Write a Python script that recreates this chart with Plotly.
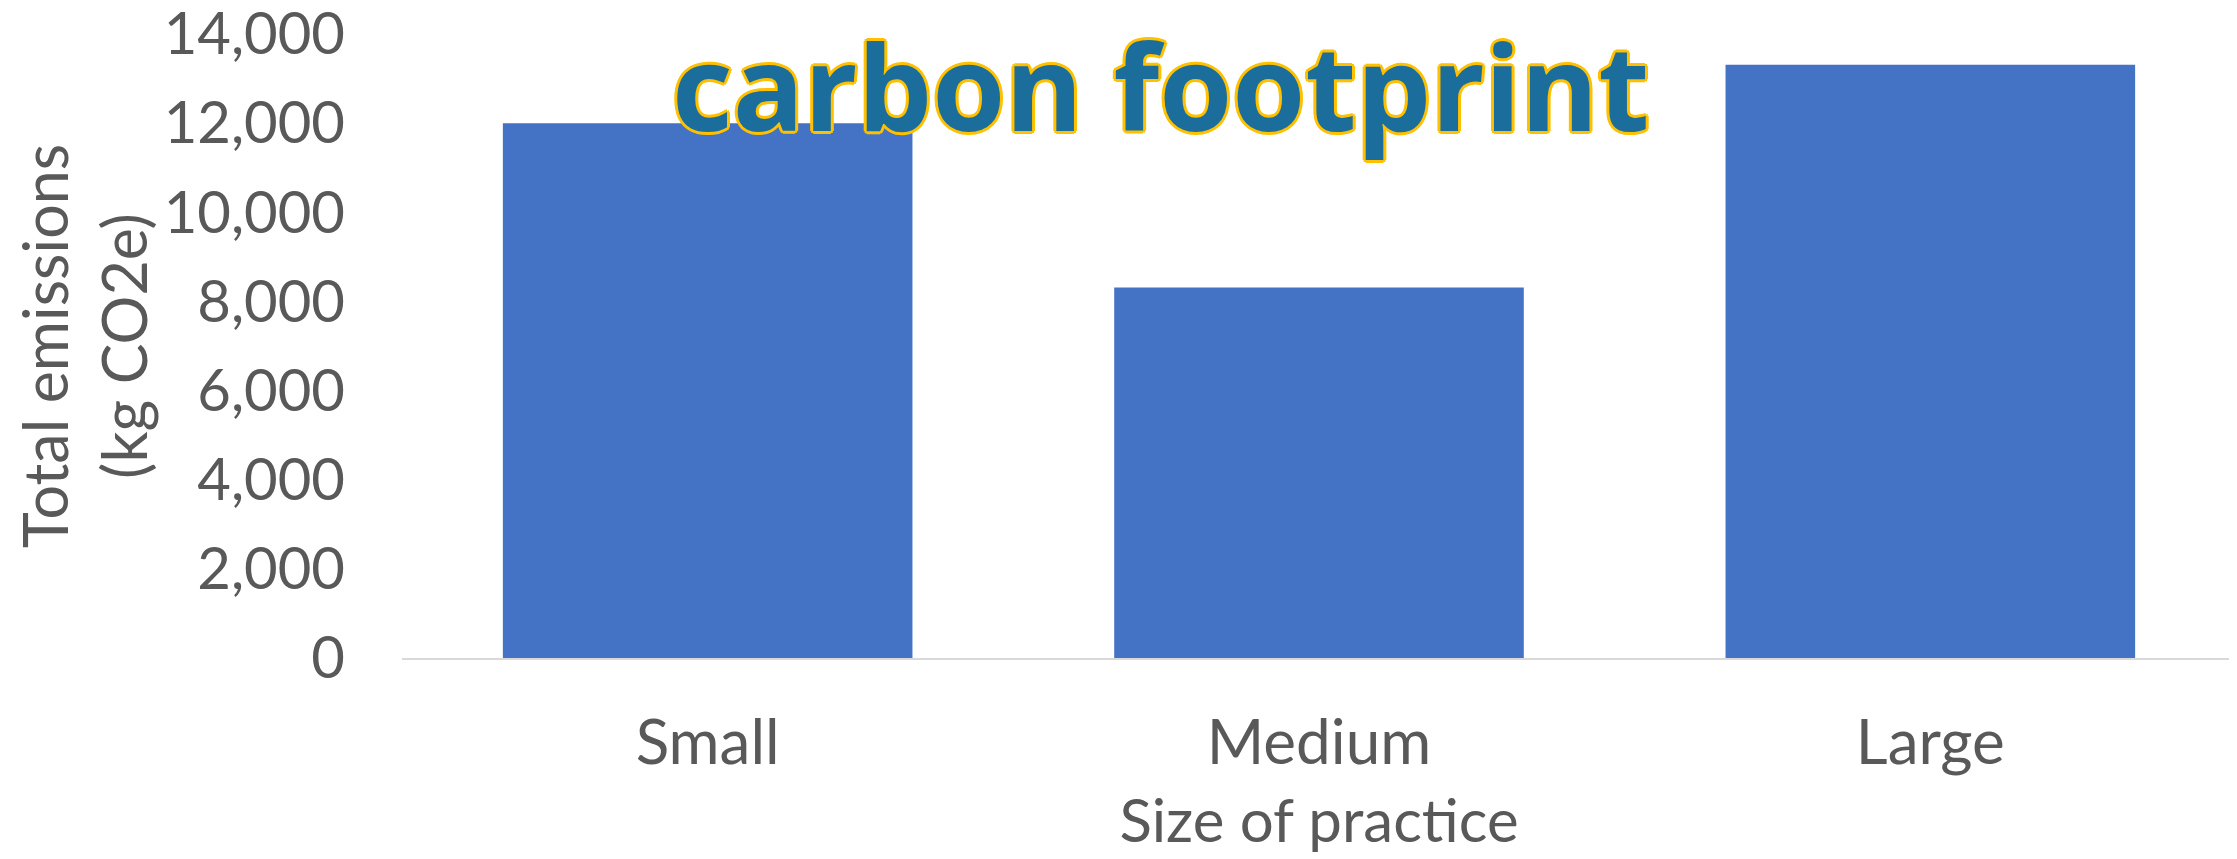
import plotly.graph_objects as go

categories = ["Small", "Medium", "Large"]
emissions = [12000, 8310, 13310]
y_ticks = [0, 2000, 4000, 6000, 8000, 10000, 12000, 14000]

title_text = "carbon footprint"
x_title = "Size of practice"
y_title = "Total emissions<br>(kg CO2e)"

TEXT = "#595959"
BODY_FONT = "Lato, 'Open Sans', sans-serif"

fig = go.Figure(
    go.Bar(
        x=categories,
        y=emissions,
        marker=dict(color="#4472C4", line=dict(width=0)),
        hoverinfo="x+y",
    )
)

# The page body has an 8px default margin, so the figure is sized to fit the window
fig.update_layout(
    width=2229,
    height=851,
    margin=dict(l=394, r=1, t=26, b=201),
    paper_bgcolor="white",
    plot_bgcolor="white",
    bargap=0.33,
    showlegend=False,
    font=dict(family=BODY_FONT, color=TEXT),
)

fig.update_xaxes(
    showline=True,
    linecolor="#D9D9D9",
    linewidth=2,
    showgrid=False,
    zeroline=False,
    ticks="",
    automargin=False,
    tickfont=dict(family=BODY_FONT, size=62, color=TEXT),
    ticklabelstandoff=30,
    title=dict(text=x_title, font=dict(family=BODY_FONT, size=60, color=TEXT), standoff=24),
)

fig.update_yaxes(
    range=[0, 14000],
    tickmode="array",
    tickvals=y_ticks,
    tickformat=",",
    showline=False,
    showgrid=False,
    zeroline=False,
    ticks="",
    automargin=False,
    ticklabeloverflow="allow",
    tickfont=dict(family=BODY_FONT, size=58, color=TEXT),
    ticklabelstandoff=56,
    title=dict(text=y_title, font=dict(family=BODY_FONT, size=61, color=TEXT), standoff=2),
)

outline = ", ".join(
    f"{dx}px {dy}px 0 #FFC000"
    for dx, dy in [(-3, 0), (3, 0), (0, -3), (0, 3), (-2, -2), (2, -2), (-2, 2), (2, 2)]
)

fig.add_annotation(
    text=title_text,
    xref="paper",
    yref="paper",
    x=0.414,
    y=0.917,
    xanchor="center",
    yanchor="middle",
    showarrow=False,
    font=dict(family="'Open Sans', sans-serif", size=118, color="#1B6E9B", weight="bold", shadow=outline),
)

fig.write_html("out.html")
